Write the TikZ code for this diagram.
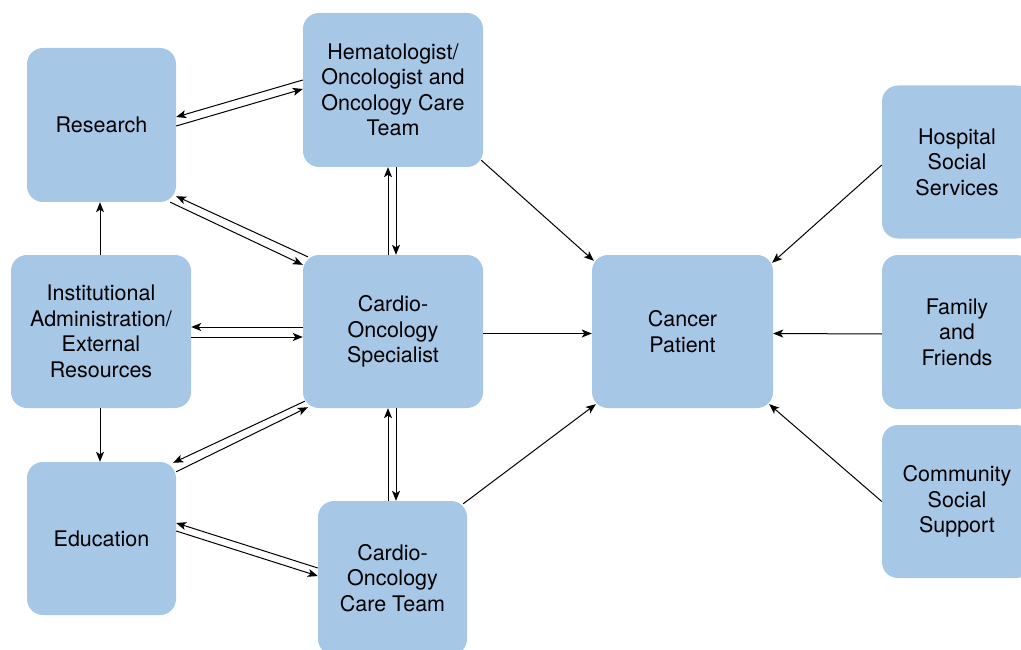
\documentclass[tikz,border=0pt]{standalone}
\usepackage{fontspec}
\setmainfont{TeX Gyre Heros}
\usetikzlibrary{arrows.meta}
\definecolor{boxblue}{HTML}{A7C7E7}
\tikzset{
  box/.style={rectangle, rounded corners=16pt, fill=boxblue, inner sep=0pt,
    align=center, font=\fontsize{21.5}{25.5}\selectfont},
  conn/.style={line width=1pt, -{Stealth[length=10pt,width=8pt,inset=2.5pt]}}
}
\begin{document}
\begin{tikzpicture}[x=1pt,y=-1pt]
\useasboundingbox (0,0) rectangle (1021,650);
\node[box, minimum width=149pt, minimum height=154pt] (research) at (101.5,125) {Research};
\node[box, minimum width=180pt, minimum height=154pt] (hema) at (393,90) {Hematologist/\\Oncologist and\\Oncology Care\\Team};
\node[box, minimum width=180pt, minimum height=153pt] (inst) at (101,331.5) {Institutional\\Administration/\\External\\Resources};
\node[box, minimum width=180pt, minimum height=153pt] (spec) at (393,331.5) {Cardio-\\Oncology\\Specialist};
\node[box, minimum width=181pt, minimum height=153pt] (patient) at (682.5,331.5) {Cancer\\Patient};
\node[box, minimum width=149pt, minimum height=153pt] (educ) at (101.5,538.5) {Education};
\node[box, minimum width=149pt, minimum height=154pt] (care) at (392.5,578) {Cardio-\\Oncology\\Care Team};
\node[box, minimum width=150pt, minimum height=153pt] (hospital) at (957,162) {Hospital\\Social\\Services};
\node[box, minimum width=150pt, minimum height=154pt] (family) at (957,332) {Family\\and\\Friends};
\node[box, minimum width=150pt, minimum height=153pt] (community) at (957,501.5) {Community\\Social\\Support};

% Research <-> Hematologist
\draw[conn] ([yshift=10pt]hema.west) -- ([yshift=8pt]research.east);
\draw[conn] ([yshift=-1pt]research.east) -- ([yshift=1pt]hema.west);
% Research <-> Specialist
\draw[conn] ([xshift=5pt,yshift=-2pt]spec.north west) -- ([yshift=6pt]research.south east);
\draw[conn] ([xshift=-6pt]research.south east) -- ([yshift=-10pt]spec.north west);
% Hematologist <-> Specialist
\draw[conn] ([xshift=-5pt]spec.north) -- ([xshift=-5pt]hema.south);
\draw[conn] ([xshift=3pt]hema.south) -- ([xshift=3pt]spec.north);
% Institutional <-> Specialist
\draw[conn] ([yshift=4.5pt]spec.west) -- ([yshift=4.5pt]inst.east);
\draw[conn] ([yshift=-5.5pt]inst.east) -- ([yshift=-5.5pt]spec.west);
% Institutional -> Research / Education
\draw[conn] ([xshift=-1pt]inst.north) -- ([xshift=-1.5pt]research.south);
\draw[conn] ([xshift=-1pt]inst.south) -- ([xshift=-1.5pt]educ.north);
% Specialist <-> Education
\draw[conn] ([xshift=2pt,yshift=7pt]spec.south west) -- ([xshift=-3pt,yshift=-1pt]educ.north east);
\draw[conn] ([yshift=-10pt]educ.north east) -- ([xshift=5pt,yshift=1pt]spec.south west);
% Specialist <-> Care Team
\draw[conn] ([xshift=-4.5pt]care.north) -- ([xshift=-5pt]spec.south);
\draw[conn] ([xshift=3pt]spec.south) -- ([xshift=3.5pt]care.north);
% Education <-> Care Team
\draw[conn] ([yshift=10pt]care.west) -- ([yshift=15.5pt]educ.east);
\draw[conn] ([yshift=7.5pt]educ.east) -- ([yshift=2pt]care.west);
% To patient
\draw[conn] ([xshift=-2pt,yshift=7pt]hema.south east) -- ([xshift=2pt,yshift=-6pt]patient.north west);
\draw[conn] ([yshift=-2pt]spec.east) -- ([yshift=-2pt]patient.west);
\draw[conn] ([xshift=-4pt,yshift=-3pt]care.north east) -- ([xshift=4pt,yshift=4pt]patient.south west);
\draw[conn] ([yshift=-3pt]hospital.west) -- ([xshift=-1pt,yshift=-8pt]patient.north east);
\draw[conn] ([yshift=-2pt]family.west) -- ([yshift=-2pt]patient.east);
\draw[conn] (community.west) -- ([xshift=-4pt,yshift=4pt]patient.south east);
\end{tikzpicture}
\end{document}
